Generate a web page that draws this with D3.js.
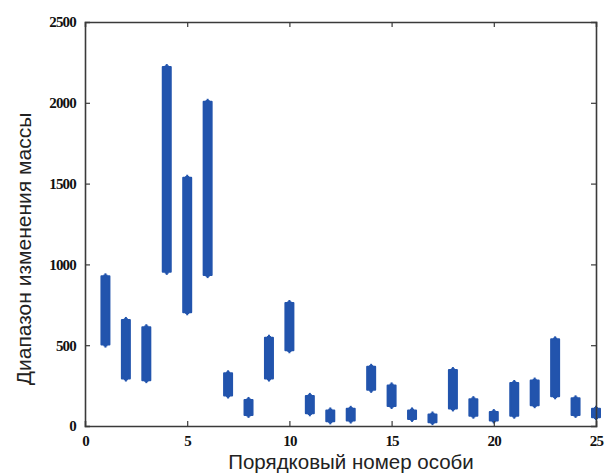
<!DOCTYPE html>
<html><head><meta charset="utf-8">
<script src="https://cdn.jsdelivr.net/npm/d3@7"></script>
<style>body{margin:0;background:#fff}svg{display:block}</style>
</head><body>
<svg id="c" width="605" height="473"></svg>
<script>
const individuals = [1,2,3,4,5,6,7,8,9,10,11,12,13,14,15,16,17,18,19,20,21,22,23,24,25];
const lowValues  = [510,300,290,960,710,940,195,75,300,475,85,35,40,230,130,50,30,115,70,40,70,135,190,75,60];
const highValues = [920,650,605,2215,1530,2000,320,155,540,755,180,90,100,360,245,90,65,340,160,80,260,275,530,165,100];
const xTicks = [0,5,10,15,20,25];
const yTicks = [0,500,1000,1500,2000,2500];
const xTitle = "Порядковый номер особи";
const yTitle = "Диапазон изменения массы";

const svg = d3.select("#c");
const L = 85, R = 596, T = 22, B = 426;
const x = d3.scaleLinear().domain([0,25]).range([L,R]);
const y = d3.scaleLinear().domain([0,2500]).range([B,T]);
const blue = "#2254ad";
const frame = "#3a3a3a";

// bars
const g = svg.append("g");
individuals.forEach((d,i)=>{
  const cx = x(d), y1 = y(highValues[i]), y2 = y(lowValues[i]);
  g.append("line").attr("x1",cx).attr("x2",cx).attr("y1",y1-4).attr("y2",y2+4)
    .attr("stroke",blue).attr("stroke-width",2);
  g.append("rect").attr("x",cx-4).attr("width",8).attr("y",y1-1).attr("height",y2-y1+2)
    .attr("fill",blue).attr("stroke",blue).attr("stroke-width",2).attr("stroke-linejoin","round");
  g.append("line").attr("x1",cx-2).attr("x2",cx+2).attr("y1",y1-2).attr("y2",y1-2).attr("stroke",blue).attr("stroke-width",1.5);
  g.append("line").attr("x1",cx-2).attr("x2",cx+2).attr("y1",y2+2).attr("y2",y2+2).attr("stroke",blue).attr("stroke-width",1.5);
});

// axes (inward ticks, matlab box)
const fontTick = "bold 15px 'Liberation Serif', serif";
const axB = svg.append("g").attr("transform",`translate(0,${B})`)
  .call(d3.axisBottom(x).tickValues(xTicks).tickSize(-5).tickPadding(9).tickFormat(d3.format("d")));
const axT = svg.append("g").attr("transform",`translate(0,${T})`)
  .call(d3.axisTop(x).tickValues(xTicks).tickSize(-5).tickFormat(""));
const axL = svg.append("g").attr("transform",`translate(${L},0)`)
  .call(d3.axisLeft(y).tickValues(yTicks).tickSize(-5).tickPadding(9).tickFormat(d3.format("d")));
const axR = svg.append("g").attr("transform",`translate(${R},0)`)
  .call(d3.axisRight(y).tickValues(yTicks).tickSize(-5).tickFormat(""));
[axB,axT,axL,axR].forEach(a=>{
  a.select(".domain").attr("stroke",frame).attr("stroke-width",1.6);
  a.selectAll(".tick line").attr("stroke",frame).attr("stroke-width",1.2);
  a.selectAll("text").style("font",fontTick).attr("fill","#111").style("letter-spacing","-0.8px");
});
axB.selectAll(".tick line").filter(d=>d===0||d===25).remove();
axT.selectAll(".tick line").filter(d=>d===0||d===25).remove();
axL.selectAll(".tick line").filter(d=>d===0||d===2500).remove();
axR.selectAll(".tick line").filter(d=>d===0||d===2500).remove();

// titles
svg.append("text").attr("x",351).attr("y",469).attr("text-anchor","middle")
  .style("font","20.5px 'Liberation Sans', Arial, sans-serif").attr("fill","#222").text(xTitle);
svg.append("text").attr("transform","translate(31,249) rotate(-90)").attr("text-anchor","middle")
  .style("font","21px 'Liberation Sans', Arial, sans-serif").attr("fill","#222").text(yTitle);
</script>
</body></html>
